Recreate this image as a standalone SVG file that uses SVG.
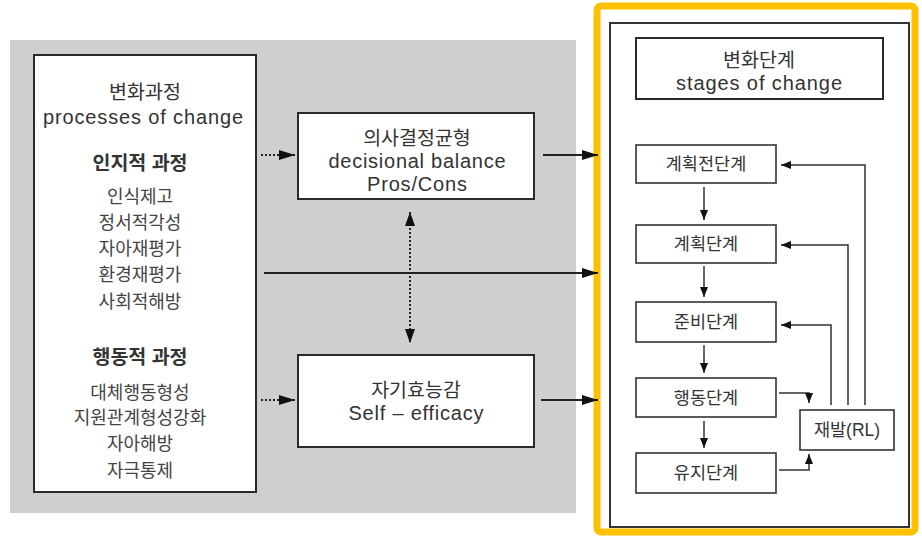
<svg xmlns="http://www.w3.org/2000/svg" width="922" height="538" viewBox="0 0 922 538">
<style>
text{font-family:"Liberation Sans","Noto Sans CJK KR",sans-serif;fill:#333;text-anchor:middle}
.k{font-size:18px;fill:#444}
.kb{font-size:19.5px;font-weight:bold}
.h{font-size:19.5px}
.e{font-size:20px}
.s{font-size:17.5px}
.box{fill:#fff;stroke:#2a2a2a;stroke-width:2}
.sbox{fill:#fff;stroke:#333;stroke-width:1.6}
.ln{fill:none;stroke:#222;stroke-width:2}
.dl{fill:none;stroke:#222;stroke-width:2;stroke-dasharray:2 2}
.tl{fill:none;stroke:#333;stroke-width:1.5}
</style>
<defs>
<marker id="a" viewBox="0 0 16 10" refX="16" refY="5" markerWidth="16" markerHeight="10" markerUnits="userSpaceOnUse" orient="auto"><path d="M0,0 L16,5 L0,10 z" fill="#111"/></marker>
<marker id="as" viewBox="0 0 10 8" refX="10" refY="4" markerWidth="10" markerHeight="8" markerUnits="userSpaceOnUse" orient="auto"><path d="M0,0 L10,4 L0,8 z" fill="#111"/></marker>
<marker id="ab" viewBox="0 0 14 10" refX="14" refY="5" markerWidth="14" markerHeight="10" markerUnits="userSpaceOnUse" orient="auto-start-reverse"><path d="M0,0 L14,5 L0,10 z" fill="#111"/></marker>
</defs>
<rect x="0" y="0" width="922" height="538" fill="#fff"/>
<rect x="10" y="40" width="566" height="473" fill="#cfcfcf"/>
<rect x="597" y="6" width="318" height="526" rx="4" fill="#fff" stroke="#FFC000" stroke-width="7"/>

<g id="processes">
<rect class="box" x="34" y="55" width="222" height="437"/>
<text class="h" x="145" y="99">변화과정</text>
<text class="e" x="143" y="124" textLength="200" lengthAdjust="spacing">processes of change</text>
<text class="kb" x="140" y="170">인지적 과정</text>
<text class="k" x="140" y="203">인식제고</text>
<text class="k" x="140" y="229">정서적각성</text>
<text class="k" x="140" y="255">자아재평가</text>
<text class="k" x="140" y="281">환경재평가</text>
<text class="k" x="140" y="308">사회적해방</text>
<text class="kb" x="140" y="364">행동적 과정</text>
<text class="k" x="140" y="399">대체행동형성</text>
<text class="k" x="140" y="424">지원관계형성강화</text>
<text class="k" x="140" y="450">자아해방</text>
<text class="k" x="140" y="477">자극통제</text>
</g>

<g id="decisional">
<rect class="box" x="298" y="113" width="236" height="86"/>
<text class="h" x="417" y="145">의사결정균형</text>
<text class="e" x="417" y="168" textLength="177" lengthAdjust="spacing">decisional balance</text>
<text class="e" x="417" y="191" textLength="100" lengthAdjust="spacing">Pros/Cons</text>
</g>

<g id="selfefficacy">
<rect class="box" x="298" y="355" width="236" height="92"/>
<text class="h" x="416" y="397">자기효능감</text>
<text class="e" x="416" y="420" textLength="135" lengthAdjust="spacing">Self – efficacy</text>
</g>

<g id="stages">
<rect x="610" y="23" width="299" height="504" fill="#fff" stroke="#333" stroke-width="2"/>
<rect class="box" x="636" y="38" width="247" height="61"/>
<text class="h" x="759" y="67">변화단계</text>
<text class="e" x="759" y="90" textLength="166" lengthAdjust="spacing">stages of change</text>
</g>

<g id="precontemplation"><rect class="sbox" x="636" y="145" width="140" height="38"/><text class="s" x="706" y="170">계획전단계</text></g>
<g id="contemplation"><rect class="sbox" x="636" y="225" width="140" height="38"/><text class="s" x="706" y="250">계획단계</text></g>
<g id="preparation"><rect class="sbox" x="636" y="302" width="140" height="40"/><text class="s" x="706" y="328">준비단계</text></g>
<g id="action"><rect class="sbox" x="636" y="378" width="140" height="39"/><text class="s" x="706" y="404">행동단계</text></g>
<g id="maintenance"><rect class="sbox" x="636" y="453" width="140" height="40"/><text class="s" x="706" y="479">유지단계</text></g>
<g id="relapse"><rect class="sbox" x="800" y="410" width="94" height="40"/><text class="s" x="847" y="436">재발(RL)</text></g>

<g id="connectors">
<line class="dl" x1="261" y1="155" x2="295" y2="155" marker-end="url(#a)"/>
<line class="dl" x1="261" y1="400" x2="295" y2="400" marker-end="url(#a)"/>
<line class="ln" x1="264" y1="273" x2="598" y2="273" marker-end="url(#a)"/>
<line class="ln" x1="543" y1="155" x2="598" y2="155" marker-end="url(#a)"/>
<line class="ln" x1="541" y1="400" x2="598" y2="400" marker-end="url(#a)"/>
<line class="dl" x1="410" y1="212" x2="410" y2="343" marker-start="url(#ab)" marker-end="url(#ab)"/>
<line class="tl" x1="704" y1="187" x2="704" y2="220" marker-end="url(#as)"/>
<line class="tl" x1="704" y1="266" x2="704" y2="297" marker-end="url(#as)"/>
<line class="tl" x1="704" y1="345" x2="704" y2="373" marker-end="url(#as)"/>
<line class="tl" x1="704" y1="421" x2="704" y2="448" marker-end="url(#as)"/>
<polyline class="tl" points="865,405 865,165 781,165" marker-end="url(#as)"/>
<polyline class="tl" points="848,405 848,245 781,245" marker-end="url(#as)"/>
<polyline class="tl" points="831,405 831,325 781,325" marker-end="url(#as)"/>
<polyline class="tl" points="779,393 809,393 809,403" marker-end="url(#as)"/>
<polyline class="tl" points="779,470 809,470 809,454" marker-end="url(#as)"/>
</g>
</svg>
